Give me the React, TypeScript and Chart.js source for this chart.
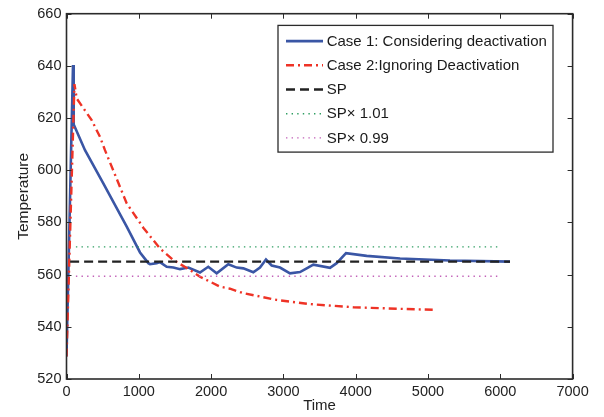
import React, { useEffect, useRef } from "react";
import { Chart, registerables } from "chart.js";

Chart.register(...registerables);

// ---- data ----
const case1Time = [0, 90, 100, 256, 509, 833, 1017, 1132, 1155, 1247, 1293, 1386, 1478, 1570, 1685, 1846, 1961, 2077, 2238, 2354, 2446, 2584, 2676, 2759, 2838, 2953, 3091, 3230, 3322, 3414, 3645, 3737, 3866, 4152, 4613, 5304, 6134];
const case1Temp = [528.6, 640.3, 617.5, 607.7, 595.0, 578.4, 568.5, 564.4, 564.0, 564.4, 564.8, 563.0, 562.7, 562.1, 562.7, 560.8, 563.0, 560.5, 564.0, 562.7, 562.4, 560.9, 562.7, 565.8, 563.5, 562.7, 560.5, 561.0, 562.4, 563.8, 562.6, 564.4, 568.2, 567.2, 566.2, 565.4, 565.0];

const case2Time = [0, 110, 141, 348, 463, 532, 833, 1062, 1293, 1478, 1708, 1846, 2123, 2261, 2446, 2907, 3368, 3967, 4613, 5097];
const case2Temp = [528.6, 633.0, 627.5, 619.2, 612.8, 607.7, 587.3, 578.0, 570.0, 565.6, 561.8, 559.2, 555.4, 554.6, 552.9, 550.3, 548.7, 547.5, 546.9, 546.5];

const setPoint = 565;
const spTime = [50, 6134];
const bandTime = [130, 6000];
const upperFactor = 1.01;
const lowerFactor = 0.99;

const xTickValues = [0, 1000, 2000, 3000, 4000, 5000, 6000, 7000];
const yTickValues = [520, 540, 560, 580, 600, 620, 640, 660];

const seriesLabels = [
  "Case 1: Considering deactivation",
  "Case 2:Ignoring Deactivation",
  "SP",
  "SP\u00d7 1.01",
  "SP\u00d7 0.99",
];

const FONT = "'Liberation Sans', Arial, Helvetica, sans-serif";

const toPoints = (xs: number[], ys: number[]) => xs.map((x, i) => ({ x, y: ys[i] }));

const framePlugin = {
  id: "frameTicks",
  afterDraw(chart: any) {
    const { ctx, chartArea } = chart;
    const { left, right, top, bottom } = chartArea;
    const xs = chart.scales.x;
    const ys = chart.scales.y;
    ctx.save();
    ctx.strokeStyle = "#2b2b2b";
    ctx.lineWidth = 1.6;
    ctx.setLineDash([]);
    ctx.strokeRect(left, top, right - left, bottom - top);
    const tl = 5;
    ctx.beginPath();
    xTickValues.forEach((v) => {
      const px = Math.round(xs.getPixelForValue(v)) + 0.5;
      ctx.moveTo(px, bottom);
      ctx.lineTo(px, bottom - tl);
      ctx.moveTo(px, top);
      ctx.lineTo(px, top + tl);
    });
    yTickValues.forEach((v) => {
      const py = Math.round(ys.getPixelForValue(v)) + 0.5;
      ctx.moveTo(left, py);
      ctx.lineTo(left + tl, py);
      ctx.moveTo(right, py);
      ctx.lineTo(right - tl, py);
    });
    ctx.lineWidth = 1;
    ctx.stroke();
    ctx.restore();
  },
};

const legendPlugin = {
  id: "boxLegend",
  afterDatasetsDraw(chart: any) {
    const { ctx, chartArea } = chart;
    const bx = chartArea.left + 211.5;
    const by = chartArea.top + 11.7;
    const bw = 275;
    const bh = 126.7;
    ctx.save();
    ctx.fillStyle = "#ffffff";
    ctx.fillRect(bx, by, bw, bh);
    ctx.strokeStyle = "#2b2b2b";
    ctx.lineWidth = 1.3;
    ctx.setLineDash([]);
    ctx.strokeRect(bx, by, bw, bh);
    ctx.font = `15px ${FONT}`;
    ctx.textBaseline = "middle";
    ctx.textAlign = "left";
    chart.data.datasets.forEach((ds: any, i: number) => {
      const cy = by + 15.7 + i * 24.2;
      ctx.beginPath();
      ctx.strokeStyle = ds.borderColor;
      ctx.lineWidth = ds.borderWidth;
      ctx.setLineDash(ds.borderDash || []);
      ctx.moveTo(bx + 8, cy);
      ctx.lineTo(bx + 45, cy);
      ctx.stroke();
      ctx.setLineDash([]);
      ctx.fillStyle = "#1a1a1a";
      ctx.fillText(ds.label, bx + 48.7, cy + 0.5);
    });
    ctx.restore();
  },
};

export default function App() {
  const ref = useRef<HTMLCanvasElement | null>(null);

  useEffect(() => {
    if (!ref.current) return;
    const chart = new Chart(ref.current, {
      type: "line",
      data: {
        datasets: [
          {
            label: seriesLabels[0],
            data: toPoints(case1Time, case1Temp),
            borderColor: "#3a56a5",
            borderWidth: 2.6,
            pointRadius: 0,
            tension: 0,
            order: 5,
          },
          {
            label: seriesLabels[1],
            data: toPoints(case2Time, case2Temp),
            borderColor: "#ee3326",
            borderWidth: 2.4,
            borderDash: [8, 4, 2, 4],
            pointRadius: 0,
            tension: 0,
            order: 4,
          },
          {
            label: seriesLabels[2],
            data: toPoints(spTime, spTime.map(() => setPoint)),
            borderColor: "#222222",
            borderWidth: 2.4,
            borderDash: [9, 5],
            pointRadius: 0,
            order: 3,
          },
          {
            label: seriesLabels[3],
            data: toPoints(bandTime, bandTime.map(() => setPoint * upperFactor)),
            borderColor: "#2f9e62",
            borderWidth: 1.4,
            borderDash: [1.4, 4.2],
            pointRadius: 0,
            order: 2,
          },
          {
            label: seriesLabels[4],
            data: toPoints(bandTime, bandTime.map(() => setPoint * lowerFactor)),
            borderColor: "#c261b8",
            borderWidth: 1.4,
            borderDash: [1.4, 4.2],
            pointRadius: 0,
            order: 1,
          },
        ],
      },
      options: {
        responsive: false,
        animation: false,
        devicePixelRatio: 1,
        layout: { padding: { top: 13.3, right: 31.4, left: 0, bottom: 0 } },
        plugins: {
          legend: { display: false },
          tooltip: { enabled: false },
        },
        scales: {
          x: {
            type: "linear",
            min: 0,
            max: 7000,
            afterBuildTicks: (s: any) => {
              s.ticks = xTickValues.map((v) => ({ value: v }));
            },
            afterFit: (s: any) => {
              s.height = 38;
            },
            ticks: {
              color: "#222",
              font: { family: FONT, size: 14.5 },
              padding: 4,
              maxRotation: 0,
              autoSkip: false,
              callback: (v: any) => String(v),
            },
            grid: { display: false, drawTicks: false },
            border: { display: false },
            title: {
              display: true,
              text: "Time",
              color: "#222",
              font: { family: FONT, size: 15 },
              padding: { top: 0, bottom: 2 },
            },
          },
          y: {
            type: "linear",
            min: 520,
            max: 660,
            afterBuildTicks: (s: any) => {
              s.ticks = yTickValues.map((v) => ({ value: v }));
            },
            afterFit: (s: any) => {
              s.width = 66.5;
            },
            ticks: {
              color: "#222",
              font: { family: FONT, size: 14.5 },
              padding: 5,
              autoSkip: false,
              callback: (v: any) => String(v),
            },
            grid: { display: false, drawTicks: false },
            border: { display: false },
            title: {
              display: true,
              text: "Temperature",
              color: "#222",
              font: { family: FONT, size: 15.5 },
              padding: { top: 14, bottom: 0 },
            },
          },
        },
      },
      plugins: [framePlugin, legendPlugin],
    });
    return () => chart.destroy();
  }, []);

  return (
    <div style={{ position: "absolute", left: 0, top: 0, width: 604, height: 417, background: "#fff" }}>
      <canvas ref={ref} width={604} height={417} />
    </div>
  );
}
